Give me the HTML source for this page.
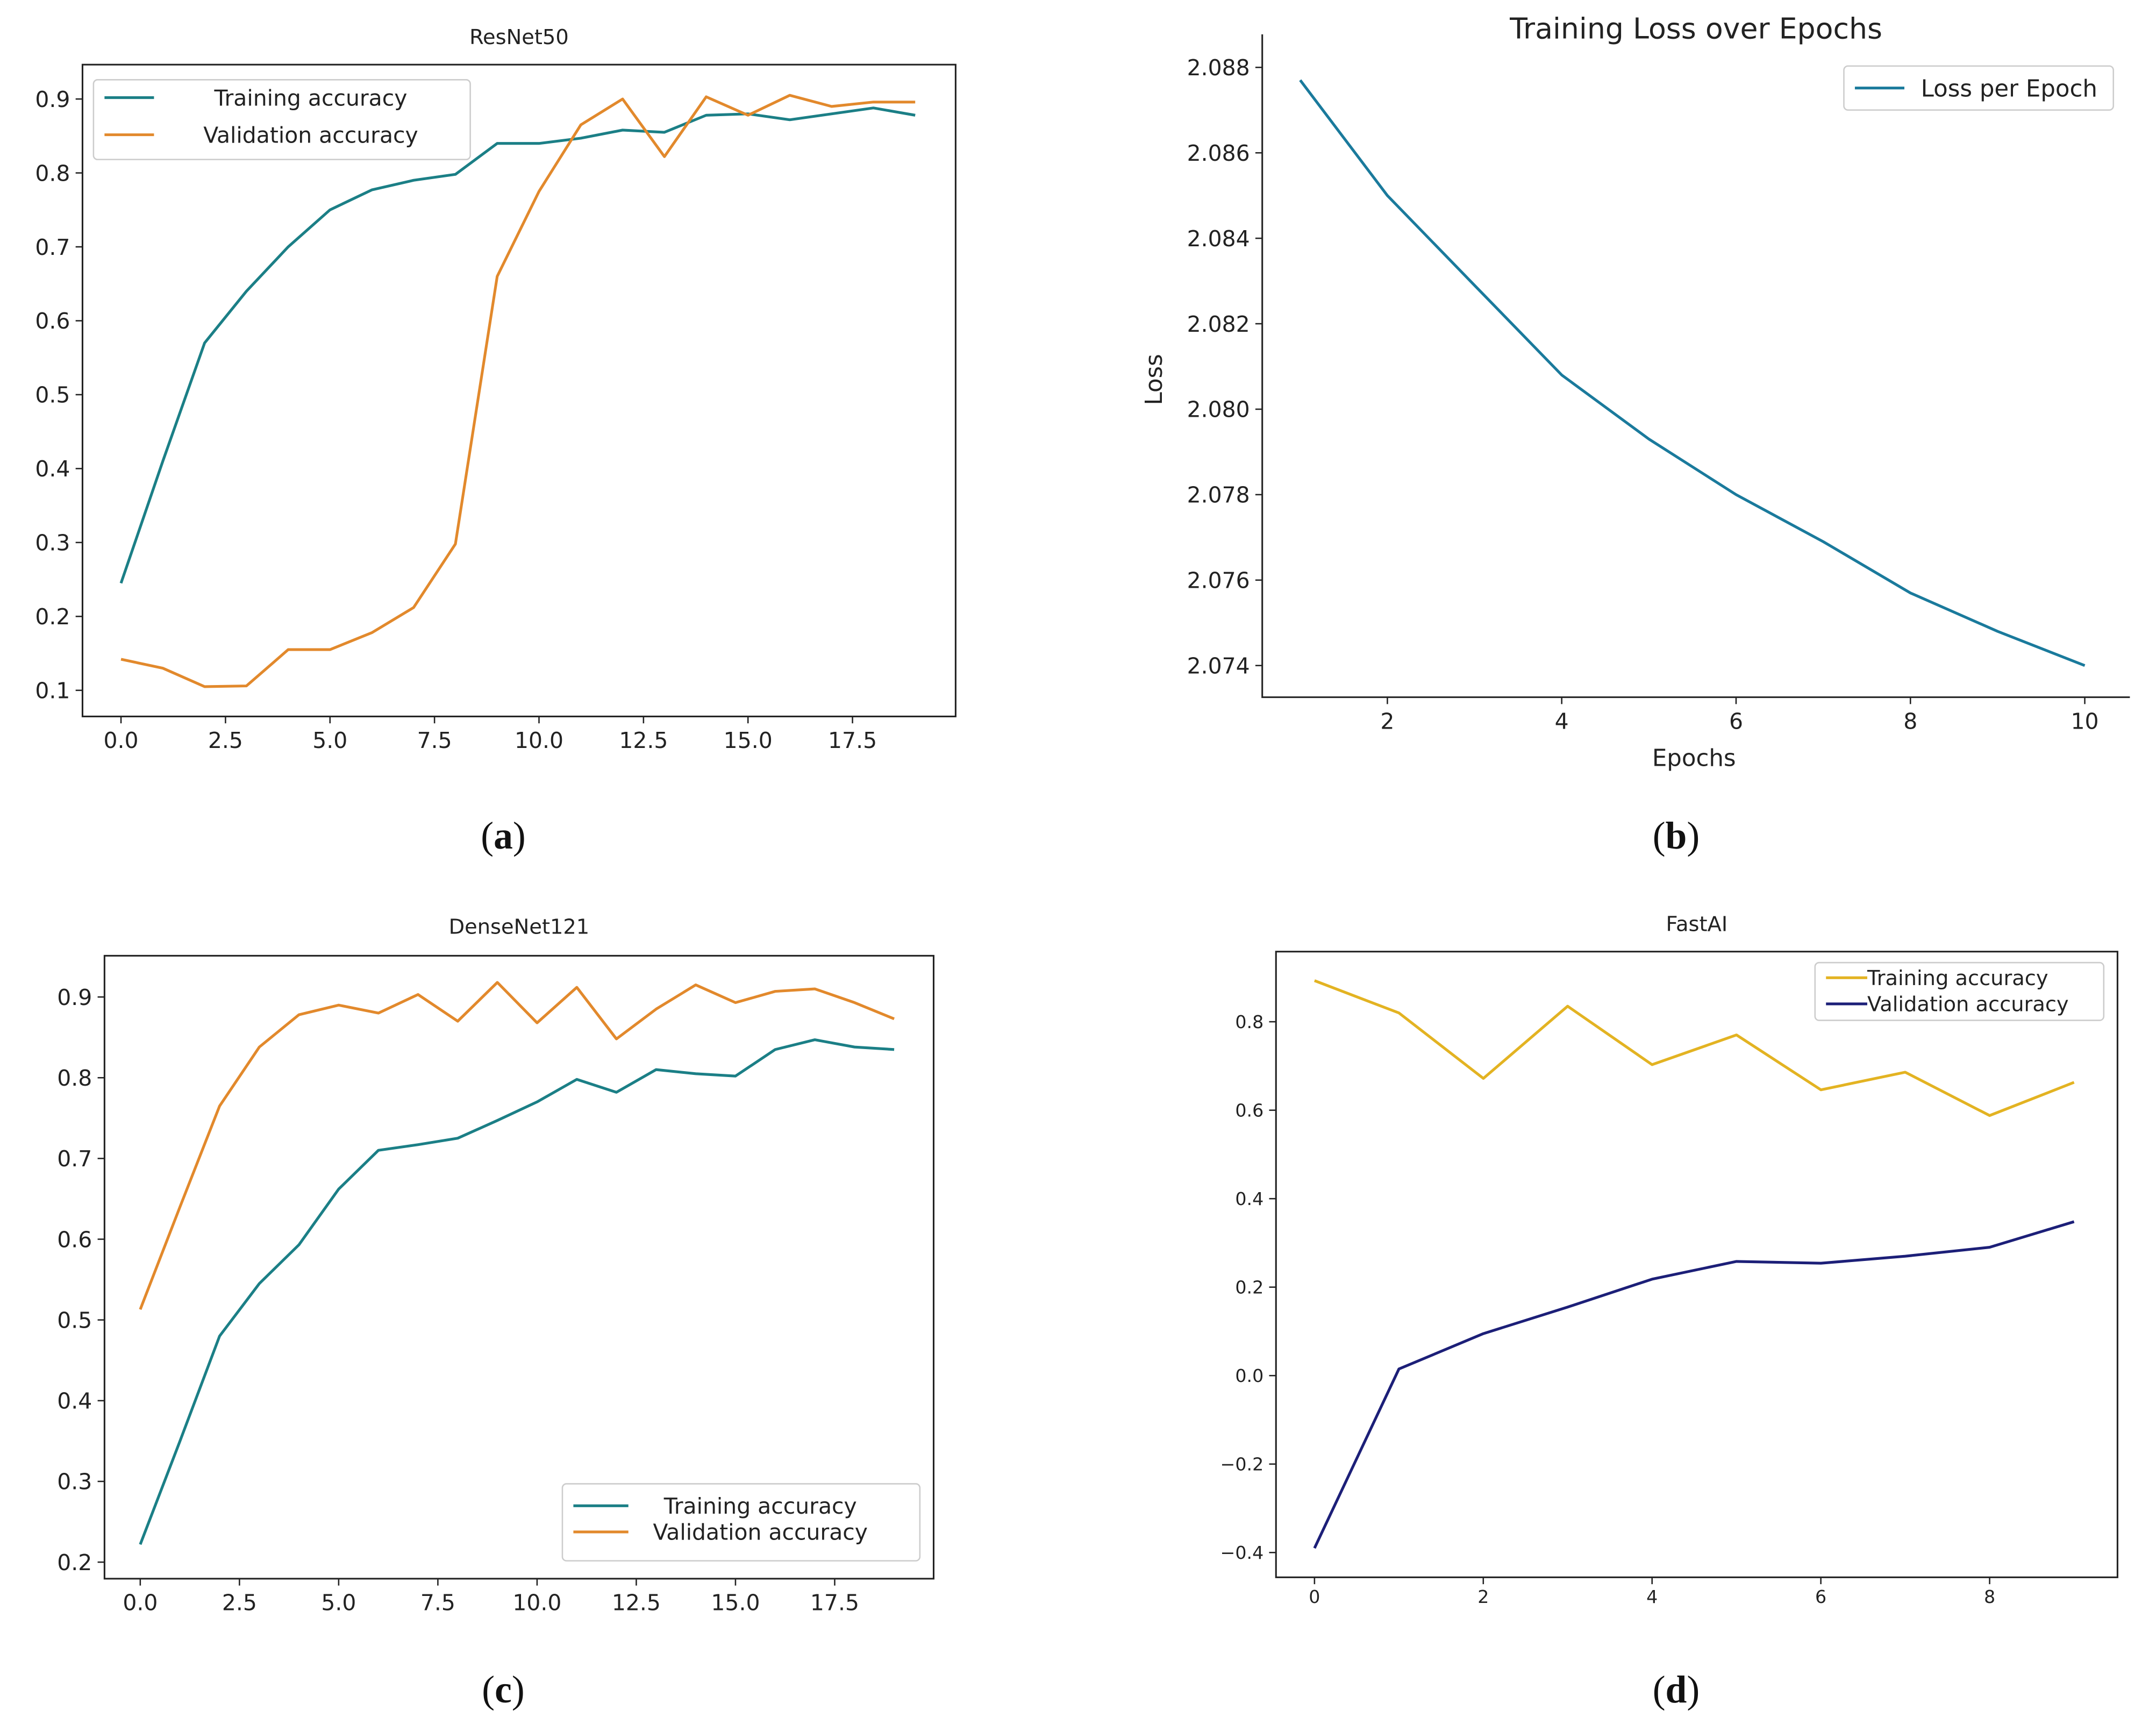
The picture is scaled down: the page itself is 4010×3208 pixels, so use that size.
<!DOCTYPE html>
<html><head><meta charset="utf-8"><style>
html,body{margin:0;padding:0;background:#fff}
svg{display:block}
text{font-family:"DejaVu Sans","Liberation Sans",sans-serif;fill:#222}
.cap{font-family:"Liberation Serif",serif;font-size:28px;fill:#111}
</style></head><body>
<svg id="root" width="4010" height="3208" viewBox="0 0 1568 1254.4" preserveAspectRatio="none" xmlns="http://www.w3.org/2000/svg">
<rect width="1568" height="1255" fill="#fff"/>
<text class="cap" x="366" y="617" text-anchor="middle">(<tspan font-weight="bold">a</tspan>)</text>
<text class="cap" x="1219" y="617" text-anchor="middle">(<tspan font-weight="bold">b</tspan>)</text>
<text class="cap" x="366" y="1238" text-anchor="middle">(<tspan font-weight="bold">c</tspan>)</text>
<text class="cap" x="1219" y="1238" text-anchor="middle">(<tspan font-weight="bold">d</tspan>)</text>
</svg>
<script>
const resEpochs=[0,1,2,3,4,5,6,7,8,9,10,11,12,13,14,15,16,17,18,19];
const resTrain=[0.245,0.41,0.57,0.64,0.70,0.75,0.777,0.79,0.798,0.84,0.84,0.847,0.858,0.855,0.878,0.88,0.872,0.88,0.888,0.878];
const resVal=[0.142,0.13,0.105,0.106,0.155,0.155,0.178,0.212,0.298,0.66,0.775,0.865,0.9,0.822,0.903,0.878,0.905,0.89,0.896,0.896];
const resXTicks=[0,2.5,5,7.5,10,12.5,15,17.5];
const resYTicks=[0.1,0.2,0.3,0.4,0.5,0.6,0.7,0.8,0.9];
const lossEpochs=[1,2,3,4,5,6,7,8,9,10];
const lossValues=[2.0877,2.0850,2.0829,2.0808,2.0793,2.0780,2.0769,2.0757,2.0748,2.0740];
const lossXTicks=[2,4,6,8,10];
const lossYTicks=[2.074,2.076,2.078,2.080,2.082,2.084,2.086,2.088];
const denseTrain=[0.222,0.35,0.48,0.545,0.593,0.662,0.71,0.717,0.725,0.747,0.77,0.798,0.782,0.81,0.805,0.802,0.835,0.847,0.838,0.835];
const denseVal=[0.513,0.64,0.765,0.838,0.878,0.89,0.88,0.903,0.87,0.918,0.868,0.912,0.848,0.885,0.915,0.893,0.907,0.91,0.893,0.873];
const denseYTicks=[0.2,0.3,0.4,0.5,0.6,0.7,0.8,0.9];
const fastEpochs=[0,1,2,3,4,5,6,7,8,9];
const fastTrain=[0.893,0.82,0.672,0.835,0.703,0.77,0.646,0.686,0.588,0.663];
const fastVal=[-0.39,0.015,0.095,0.155,0.218,0.258,0.254,0.27,0.29,0.348];
const fastXTicks=[0,2,4,6,8];
const fastYTicks=[-0.4,-0.2,0.0,0.2,0.4,0.6,0.8];

const NS="http://www.w3.org/2000/svg";
const root=document.getElementById('root');
function el(tag,attrs,parent){const e=document.createElementNS(NS,tag);for(const k in attrs)e.setAttribute(k,attrs[k]);(parent||root).appendChild(e);return e;}
function txt(s,attrs,parent){const t=el('text',attrs,parent);t.textContent=s;return t;}

function panel(p){
  const g=el('g',{});
  
  
  const sx=v=>p.x0px+(v-p.x0)*p.xs, sy=v=>p.y0px-(v-p.y0)*p.ys;
  if(p.box){const r=el('rect',{x:p.L,y:p.T,width:p.R-p.L,height:p.B-p.T,fill:'none',stroke:'#222','stroke-width':1.2},g);
    }
  else{const a=el('path',{d:`M${p.L} ${p.T}V${p.B}H${p.R}`,fill:'none',stroke:'#222','stroke-width':1.2},g);
    }
  p.xt.forEach(v=>{const x=sx(v);el('line',{x1:x,x2:x,y1:p.B,y2:p.B+5,stroke:'#222'},g);
    const t=txt(p.xf(v),{x:x,y:p.B+23*p.fs/16,'text-anchor':'middle','font-size':p.fs},g);
    });
  p.yt.forEach(v=>{const y=sy(v);el('line',{x1:p.L-5,x2:p.L,y1:y,y2:y,stroke:'#222'},g);
    const t=txt(p.yf(v),{x:p.L-9,y:y+p.fs*0.36,'text-anchor':'end','font-size':p.fs},g);
    });
  p.series.forEach(s=>{
    const d=s.y.map((v,i)=>(i?'L':'M')+sx(s.x[i]).toFixed(1)+' '+sy(v).toFixed(1)).join('');
    const pa=el('path',{d:d,fill:'none',stroke:s.c,'stroke-width':2,'stroke-linejoin':'round'},g);
    });
  const t=txt(p.title,{x:(p.L+p.R)/2,y:p.titleY,'text-anchor':'middle','font-size':p.titleFs},g);
  
  const lg=el('g',{},g);
  
  const b=p.leg;el('rect',{x:b.x,y:b.y,width:b.w,height:b.h,fill:'#fff',stroke:'#ccc',rx:3},lg);
  p.series.forEach((s,i)=>{const yy=b.y+b.pad+i*b.dy;
    el('line',{x1:b.x+8,x2:b.x+8+b.lw,y1:yy,y2:yy,stroke:s.c,'stroke-width':2},lg);
    const lt=txt(s.label,{x:b.tx,y:yy+b.fs*0.36,'text-anchor':b.anchor||'start','font-size':b.fs},lg);
    });
  return {g,sx,sy};
}
const f1=v=>v.toFixed(1), f3=v=>v.toFixed(3), f0=v=>String(v), fd=v=>(v<0?'\u2212'+(-v).toFixed(1):v.toFixed(1));
const teal='#1b7f86',orange='#e2892c';

panel({name:'resnet50-chart',box:true,L:60,R:695,T:47,B:521,x0:0,x0px:88,xs:30.4,y0:0.9,y0px:72,ys:537.5,
 xt:resXTicks,yt:resYTicks,xf:f1,yf:f1,fs:16,title:'ResNet50',titleY:32,titleFs:15,
 series:[{x:resEpochs,y:resTrain,c:teal,n:'training-accuracy-line',label:'Training accuracy'},
         {x:resEpochs,y:resVal,c:orange,n:'validation-accuracy-line',label:'Validation accuracy'}],
 leg:{x:68,y:58,w:274,h:58,pad:13,dy:27,lw:36,tx:226,anchor:'middle',fs:16}});

panel({name:'training-loss-chart',box:false,L:918,R:1549,T:25,B:507,x0:2,x0px:1009,xs:63.4,y0:2.088,y0px:49,ys:31070,
 xt:lossXTicks,yt:lossYTicks,xf:f0,yf:f3,fs:16,title:'Training Loss over Epochs',titleY:28,titleFs:21,
 series:[{x:lossEpochs,y:lossValues,c:'#1a7a9c',n:'loss-line',label:'Loss per Epoch'}],
 leg:{x:1341,y:48,w:196,h:32,pad:16,dy:0,lw:36,tx:1397,fs:17}});
let t=txt('Loss',{x:0,y:0,'text-anchor':'middle','font-size':17,transform:'translate(845,276) rotate(-90)'});

t=txt('Epochs',{x:1232,y:557,'text-anchor':'middle','font-size':17});


panel({name:'densenet121-chart',box:true,L:76,R:679,T:695,B:1148,x0:0,x0px:102,xs:28.86,y0:0.9,y0px:725,ys:587.1,
 xt:resXTicks,yt:denseYTicks,xf:f1,yf:f1,fs:16,title:'DenseNet121',titleY:679,titleFs:15,
 series:[{x:resEpochs,y:denseTrain,c:teal,n:'training-accuracy-line',label:'Training accuracy'},
         {x:resEpochs,y:denseVal,c:orange,n:'validation-accuracy-line',label:'Validation accuracy'}],
 leg:{x:409,y:1079,w:260,h:56,pad:16,dy:19,lw:40,tx:553,anchor:'middle',fs:16}});

panel({name:'fastai-chart',box:true,L:928,R:1540,T:692,B:1147,x0:0,x0px:956,xs:61.375,y0:0.8,y0px:743,ys:321.65,
 xt:fastXTicks,yt:fastYTicks,xf:f0,yf:fd,fs:13,title:'FastAI',titleY:677,titleFs:15,
 series:[{x:fastEpochs,y:fastTrain,c:'#e3b322',n:'training-accuracy-line',label:'Training accuracy'},
         {x:fastEpochs,y:fastVal,c:'#1c1f78',n:'validation-accuracy-line',label:'Validation accuracy'}],
 leg:{x:1320,y:700,w:210,h:42,pad:11,dy:19,lw:30,tx:1358,fs:15}});
</script>
</body></html>
